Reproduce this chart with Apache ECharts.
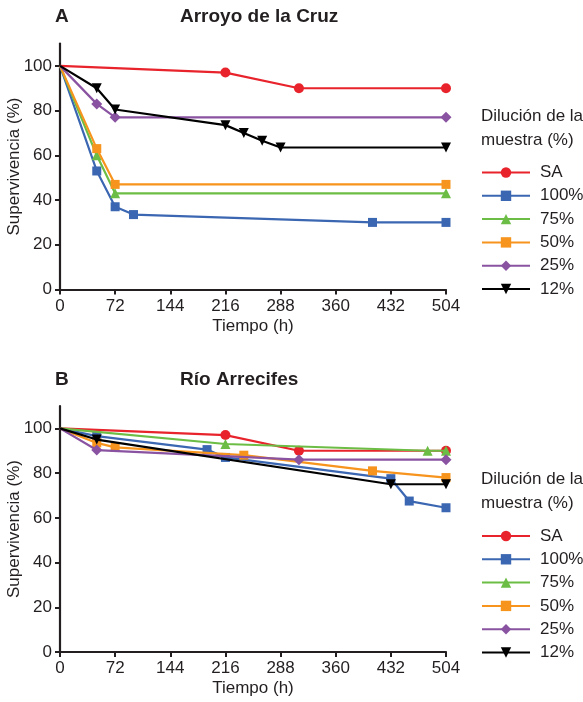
<!DOCTYPE html>
<html>
<head>
<meta charset="utf-8">
<script src="https://cdn.jsdelivr.net/npm/echarts@6/dist/echarts.min.js"></script>
<style>html,body{margin:0;padding:0;background:#fff}#c{width:583px;height:702px}</style>
</head>
<body>
<div id="c"></div>
<script>
// ---------- DATA ----------
var seriesNames = ['SA', '100%', '75%', '50%', '25%', '12%'];
var xTicks = [0, 72, 144, 216, 288, 360, 432, 504];
var yTicks = [0, 20, 40, 60, 80, 100];

// Panel A: Arroyo de la Cruz
var aSA_t   = [0, 216, 312, 504];
var aSA_v   = [100, 97, 90, 90];
var a100_t  = [0, 48, 72, 96, 408, 504];
var a100_v  = [100, 53, 37, 33.5, 30, 30];
var a75_t   = [0, 48, 72, 504];
var a75_v   = [100, 60, 43, 43];
var a50_t   = [0, 48, 72, 504];
var a50_v   = [100, 63, 47, 47];
var a25_t   = [0, 48, 72, 504];
var a25_v   = [100, 83, 77, 77];
var a12_t   = [0, 48, 72, 216, 240, 264, 288, 504];
var a12_v   = [100, 90, 80.5, 73.5, 70, 66.5, 63.5, 63.5];

// Panel B: Río Arrecifes
var bSA_t   = [0, 216, 312, 504];
var bSA_v   = [100, 97, 90, 90];
var b100_t  = [0, 48, 192, 216, 432, 456, 504];
var b100_v  = [100, 96.5, 90.5, 87, 77.5, 67.5, 64.5];
var b75_t   = [0, 216, 480, 504];
var b75_v   = [100, 93, 90, 90];
var b50_t   = [0, 48, 72, 240, 408, 504];
var b50_v   = [100, 93.5, 91.5, 88, 81, 78];
var b25_t   = [0, 48, 312, 504];
var b25_v   = [100, 90.3, 86, 86];
var b12_t   = [0, 48, 432, 504];
var b12_v   = [100, 95, 75, 75];

// ---------- STYLE ----------
var colors  = ['#e8232b', '#3b66b1', '#6cbd45', '#f7941d', '#8953a1', '#000000'];
var symbols = ['circle', 'rect', 'triangle', 'rect', 'diamond', 'triangle'];
var rotates = [0, 0, 0, 0, 0, 180];
var sizes   = [10, 9, 10, 9, 11, 10];
var FONT = '"Liberation Sans", Arial, sans-serif';
var FS = 17;

// the starting point (t = 0) carries no marker in the original
function zip(t, v) {
  return t.map(function (x, i) {
    return i === 0 ? { value: [x, v[i]], symbol: 'none' } : [x, v[i]];
  });
}
var panelA = [zip(aSA_t, aSA_v), zip(a100_t, a100_v), zip(a75_t, a75_v), zip(a50_t, a50_v), zip(a25_t, a25_v), zip(a12_t, a12_v)];
var panelB = [zip(bSA_t, bSA_v), zip(b100_t, b100_v), zip(b75_t, b75_v), zip(b50_t, b50_v), zip(b25_t, b25_v), zip(b12_t, b12_v)];

var grids = [
  { left: 60, right: 137, top: 43.5, height: 246, containLabel: false, outerBoundsMode: 'none' },
  { left: 60, right: 137, top: 406, height: 246, containLabel: false, outerBoundsMode: 'none' }
];

function xAxis(gi) {
  return {
    type: 'value', gridIndex: gi, min: 0, max: 504, interval: 72,
    name: 'Tiempo (h)', nameLocation: 'middle', nameGap: 28, nameMoveOverlap: false,
    nameTextStyle: { fontFamily: FONT, fontSize: FS, color: '#231f20' },
    axisLine: { show: true, lineStyle: { color: '#231f20', width: 2.2 } },
    axisTick: { show: true, length: 5, lineStyle: { color: '#231f20', width: 2 } },
    axisLabel: { margin: 8, fontFamily: FONT, fontSize: FS, color: '#231f20' },
    splitLine: { show: false }
  };
}
function yAxis(gi) {
  return {
    type: 'value', gridIndex: gi, min: 0, max: 110, interval: 20,
    name: 'Supervivencia (%)', nameLocation: 'middle', nameGap: 37, nameRotate: 90, nameMoveOverlap: false,
    nameTextStyle: { fontFamily: FONT, fontSize: FS, color: '#231f20' },
    axisLine: { show: true, lineStyle: { color: '#231f20', width: 2.2 } },
    axisTick: { show: true, length: 5, lineStyle: { color: '#231f20', width: 2 }, customValues: yTicks },
    axisLabel: { margin: 8, fontFamily: FONT, fontSize: FS, color: '#231f20', customValues: yTicks },
    splitLine: { show: false }
  };
}

var series = [];
[panelA, panelB].forEach(function (panel, gi) {
  panel.forEach(function (data, i) {
    series.push({
      type: 'line', name: seriesNames[i], xAxisIndex: gi, yAxisIndex: gi,
      data: data, symbol: symbols[i], symbolSize: sizes[i], symbolRotate: rotates[i],
      showAllSymbol: true,
      lineStyle: { color: colors[i], width: 2.2 },
      itemStyle: { color: colors[i] },
      z: 2 + i, animation: false
    });
  });
});

function legend(top) {
  return {
    data: seriesNames, orient: 'vertical', left: 481, top: top,
    itemWidth: 48, itemHeight: 13, itemGap: 5.3, padding: 0,
    selectedMode: false,
    textStyle: { fontFamily: FONT, fontSize: FS, lineHeight: 18, color: '#231f20', padding: [0, 0, 0, 5] }
  };
}

var chart = echarts.init(document.getElementById('c'), null, { renderer: 'canvas' });
chart.setOption({
  backgroundColor: '#fff',
  animation: false,
  color: colors,
  grid: grids,
  xAxis: [xAxis(0), xAxis(1)],
  yAxis: [yAxis(0), yAxis(1)],
  legend: [legend(163.5), legend(527)],
  graphic: [
    { type: 'text', left: 55, top: 7, style: { text: 'A', font: 'bold 19px ' + FONT, fill: '#231f20' } },
    { type: 'text', left: 180, top: 7, style: { text: 'Arroyo de la Cruz', font: 'bold 19px ' + FONT, fill: '#231f20' } },
    { type: 'text', left: 55, top: 370, style: { text: 'B', font: 'bold 19px ' + FONT, fill: '#231f20' } },
    { type: 'text', left: 180, top: 370, style: { text: 'Río Arrecifes', font: 'bold 19px ' + FONT, fill: '#231f20' } },
    { type: 'text', left: 481, top: 104, style: { text: 'Dilución de la\nmuestra (%)', font: FS + 'px ' + FONT, lineHeight: 24, fill: '#231f20' } },
    { type: 'text', left: 481, top: 467, style: { text: 'Dilución de la\nmuestra (%)', font: FS + 'px ' + FONT, lineHeight: 24, fill: '#231f20' } }
  ],
  series: series
});
</script>
</body>
</html>
